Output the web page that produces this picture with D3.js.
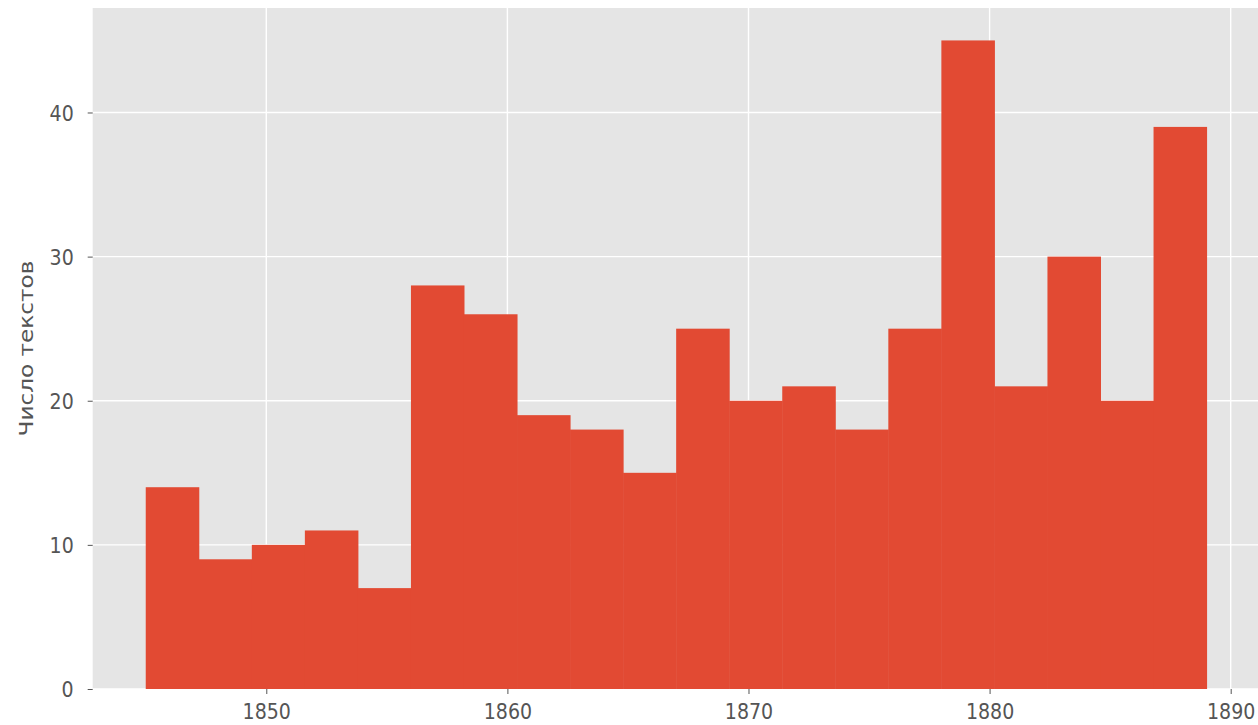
<!DOCTYPE html>
<html>
<head>
<meta charset="utf-8">
<script src="https://cdn.jsdelivr.net/npm/d3@7"></script>
<style>
  html, body { margin: 0; padding: 0; background: #fff; }
  svg { display: block; }
  text { font-family: "DejaVu Sans", sans-serif; }
</style>
</head>
<body>
<svg id="chart" width="1258" height="725"></svg>
<script>
// Data: histogram of text counts by year (20 bins, 1845–1889)
const binStart = 1845;
const binEnd = 1889;
const counts = [14, 9, 10, 11, 7, 28, 26, 19, 18, 15, 25, 20, 21, 18, 25, 45, 21, 30, 20, 39];
const xTicks = [1850, 1860, 1870, 1880, 1890];
const yTicks = [0, 10, 20, 30, 40];
const yLabel = "Число текстов";

(function () {
  const nBins = counts.length;
  const binW = (binEnd - binStart) / nBins;
  const bins = counts.map((c, i) => ({ x0: binStart + i * binW, x1: binStart + (i + 1) * binW, count: c }));

  const svg = d3.select("#chart");
  const pLeft = 92.7, pTop = 8, pBottom = 689;
  const pxPerYear = 24.11;
  const span = binEnd - binStart;
  const dom = [binStart - span * 0.05, binEnd + span * 0.05];
  const pRight = pLeft + (dom[1] - dom[0]) * pxPerYear;
  const plotW = pRight - pLeft;
  const plotH = pBottom - pTop;
  const stretch = 1.16;
  const fs = 19;

  const x = d3.scaleLinear().domain(dom).range([pLeft, pRight]);
  const yMax = d3.max(counts) * 1.05;
  const y = d3.scaleLinear().domain([0, yMax]).range([pBottom, pTop]);

  // background
  svg.append("rect")
    .attr("x", pLeft).attr("y", pTop)
    .attr("width", plotW).attr("height", plotH)
    .attr("fill", "#E5E5E5");

  // grid
  const grid = svg.append("g");
  grid.selectAll("line.gx").data(xTicks).enter().append("line")
    .attr("x1", d => x(d)).attr("x2", d => x(d))
    .attr("y1", pTop).attr("y2", pBottom)
    .attr("stroke", "#fff").attr("stroke-width", 1.4);
  grid.selectAll("line.gy").data(yTicks).enter().append("line")
    .attr("x1", pLeft).attr("x2", pRight)
    .attr("y1", d => y(d)).attr("y2", d => y(d))
    .attr("stroke", "#fff").attr("stroke-width", 1.4);

  // bars
  svg.append("g").selectAll("rect").data(bins).enter().append("rect")
    .attr("x", d => x(d.x0))
    .attr("width", d => x(d.x1) - x(d.x0) + 0.5)
    .attr("y", d => y(d.count))
    .attr("height", d => y(0) - y(d.count))
    .attr("fill", "#E24A33");

  // axes
  const xAxis = d3.axisBottom(x).tickValues(xTicks).tickFormat(d3.format("d")).tickSize(5).tickPadding(7);
  const gx = svg.append("g").attr("transform", `translate(0,${pBottom})`).call(xAxis);
  gx.select(".domain").remove();
  gx.selectAll(".tick line").attr("stroke", "#555").attr("stroke-width", 1);
  gx.selectAll(".tick text")
    .attr("fill", "#555").attr("font-size", fs).attr("font-family", "DejaVu Sans")
    .attr("y", 0).attr("dy", 0)
    .attr("transform", `translate(0,30) scale(1,${stretch})`);

  const yAxis = d3.axisLeft(y).tickValues(yTicks).tickSize(5).tickPadding(14);
  const gy = svg.append("g").attr("transform", `translate(${pLeft},0)`).call(yAxis);
  gy.select(".domain").remove();
  gy.selectAll(".tick line").attr("stroke", "#555").attr("stroke-width", 1);
  gy.selectAll(".tick text")
    .attr("fill", "#555").attr("font-size", fs).attr("font-family", "DejaVu Sans")
    .attr("dy", 0)
    .attr("transform", `translate(0,${(0.36 * fs * stretch).toFixed(2)}) scale(1,${stretch})`);

  // y label
  svg.append("text")
    .attr("transform", `translate(33,${(pTop + pBottom) / 2}) rotate(-90) scale(${stretch},1)`)
    .attr("text-anchor", "middle")
    .attr("fill", "#555")
    .attr("font-size", 20)
    .text(yLabel);
})();
</script>
</body>
</html>
